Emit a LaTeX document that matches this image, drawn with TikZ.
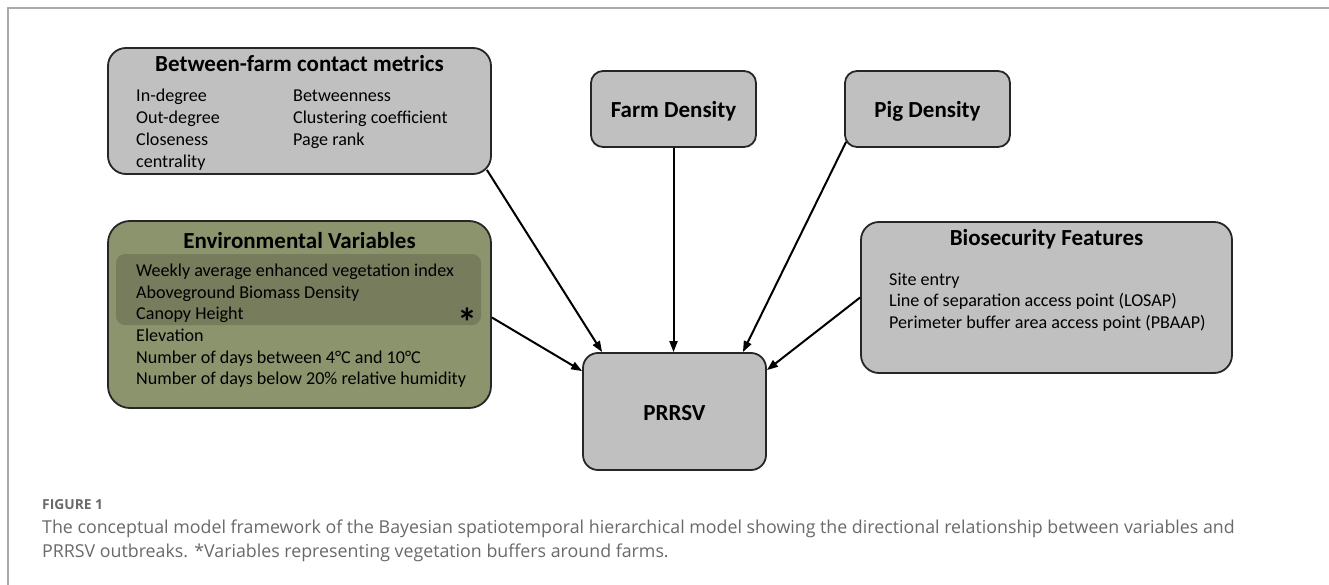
\documentclass[tikz,border=0pt]{standalone}
\usepackage{fontspec}
\setmainfont{Carlito}
\newfontfamily\capfont{Open Sans}
\usetikzlibrary{arrows.meta,positioning}

\definecolor{boxgray}{RGB}{192,192,192}
\definecolor{envgreen}{RGB}{140,148,110}
\definecolor{envband}{RGB}{118,124,92}
\definecolor{framegray}{RGB}{170,170,170}
\definecolor{capgray}{RGB}{105,105,105}

\begin{document}
\begin{tikzpicture}[x=1pt,y=-1pt,
  box/.style={draw=black!85, line width=1.8pt, fill=boxgray, rounded corners=18pt, inner sep=0pt},
  head/.style={font=\fontsize{23}{26}\selectfont\bfseries, anchor=base, inner sep=0pt},
  item/.style={font=\fontsize{18.1}{21}\selectfont, anchor=base west, inner sep=0pt},
  captext/.style={font=\capfont\fontsize{17.8}{21}\selectfont, text=capgray, anchor=base west, inner sep=0pt},
  link/.style={line width=2pt, -{Triangle[length=11pt,width=8pt]}}]
\useasboundingbox (0,0) rectangle (1329,585);
\draw[framegray, line width=2pt] (7.5,585) -- (7.5,8.5) -- (1329,8.5);

% boxes
\node[box, minimum width=383pt, minimum height=126pt] (contact) at (299.5,111) {};
\node[box, rounded corners=12pt, minimum width=165pt, minimum height=76pt] (farm) at (673.5,109) {};
\node[box, rounded corners=12pt, minimum width=165pt, minimum height=76pt] (pig) at (927.5,109) {};
\node[box, fill=envgreen, rounded corners=22pt, minimum width=383pt, minimum height=187pt] (env) at (299.5,314.5) {};
\node[fill=envband, rounded corners=9pt, minimum width=365pt, minimum height=71pt, inner sep=0pt] (band) at (298.5,289.5) {};
\node[box, minimum width=371pt, minimum height=151pt] (bio) at (1046.5,297.5) {};
\node[box, rounded corners=15pt, minimum width=183pt, minimum height=117pt] (prrsv) at (674.5,411.5) {};

% titles
\node[head] (contacttitle) at (299.5,72) {Between-farm contact metrics};
\node[head] (farmtitle) at (673.5,118) {Farm Density};
\node[head] (pigtitle) at (927.5,118) {Pig Density};
\node[head] (envtitle) at (299.5,248) {Environmental Variables};
\node[head] (biotitle) at (1046.5,245) {Biosecurity Features};
\node[head] (prrsvtitle) at (674.5,420) {PRRSV};

% contact metrics
\foreach \txt [count=\i] in {In-degree, Out-degree, Closeness, centrality}
  \node[item] (cl\i) at (136,80+21.9*\i) {\txt};
\foreach \txt [count=\i] in {Betweenness, Clustering coefficient, Page rank}
  \node[item] (cr\i) at (293,80+21.9*\i) {\txt};

% environmental variables
\foreach \txt [count=\i] in {Weekly average enhanced vegetation index, Aboveground Biomass Density,
    Canopy Height, Elevation, Number of days between 4\textdegree C and 10\textdegree C,
    Number of days below 20\% relative humidity}
  \node[item] (ev\i) at (136,255+21.6*\i) {\txt};
\node[anchor=north, inner sep=0pt, font=\fontsize{40}{40}\selectfont\bfseries] (star) at (467,308) {*};

% biosecurity
\foreach \txt [count=\i] in {Site entry, Line of separation access point (LOSAP),
    Perimeter buffer area access point (PBAAP)}
  \node[item] (bs\i) at (889,263.5+21.5*\i) {\txt};

% links
\draw[link] ([xshift=-5pt,yshift=5pt]contact.south east) -- ([xshift=20pt]prrsv.north west);
\draw[link] (farm.south) -- (farm.south |- prrsv.north);
\draw[link] ([xshift=2pt,yshift=6pt]pig.south west) -- ([xshift=-24pt]prrsv.north east);
\draw[link] ([yshift=-3pt]env.east) -- ([yshift=-19pt]prrsv.north west);
\draw[link] (bio.west) -- ([yshift=-18pt]prrsv.north east);

% caption
\node[captext, font=\capfont\bfseries\fontsize{13.8}{16}\selectfont] (figlabel) at (42,509) {FIGURE 1};
\node[captext] (capline1) at (42,533) {The conceptual model framework of the Bayesian spatiotemporal hierarchical model showing the directional relationship between variables and};
\node[captext] (capline2) at (42,557) {PRRSV outbreaks. *Variables representing vegetation buffers around farms.};
\end{tikzpicture}
\end{document}
